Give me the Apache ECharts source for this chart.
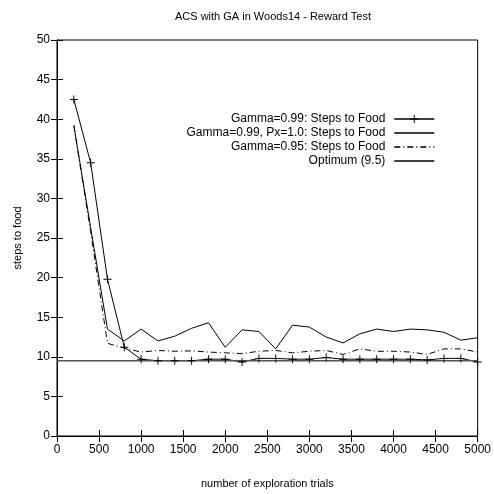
<!DOCTYPE html>
<html>
<head>
<meta charset="utf-8">
<script src="https://cdn.jsdelivr.net/npm/echarts@6/dist/echarts.min.js"></script>
<style>html,body{margin:0;padding:0;background:#fff}#c{width:494px;height:494px}</style>
</head>
<body>
<div id="c"></div>
<script>
var trials = [200,400,600,800,1000,1200,1400,1600,1800,2000,2200,2400,2600,2800,3000,3200,3400,3600,3800,4000,4200,4400,4600,4800,5000];
var gamma099 = [42.5,34.5,19.8,11.2,9.7,9.5,9.5,9.5,9.7,9.7,9.35,9.8,9.8,9.7,9.7,9.9,9.7,9.7,9.7,9.7,9.7,9.6,9.8,9.8,9.35];
var gamma099px = [39.2,26.3,13.5,12.0,13.5,12.0,12.6,13.6,14.3,11.2,13.4,13.2,11.0,14.0,13.75,12.5,11.75,12.9,13.5,13.2,13.5,13.4,13.1,12.1,12.4];
var gamma095 = [39.2,25.8,11.7,11.1,10.6,10.8,10.7,10.75,10.6,10.5,10.4,10.7,10.8,10.5,10.7,10.8,10.3,11.0,10.7,10.7,10.6,10.3,11.0,11.0,10.6];
var optimumX = [0,5000];
var optimumVal = 9.5;
var names = ['Gamma=0.99: Steps to Food','Gamma=0.99, Px=1.0: Steps to Food','Gamma=0.95: Steps to Food','Optimum (9.5)'];

function pairs(xs, ys){ return xs.map(function(x,i){return [x, ys[i]];}); }

var plusPath = 'path://M4.4,0 H5.6 V4.4 H10 V5.6 H5.6 V10 H4.4 V5.6 H0 V4.4 H4.4 Z';
var font = 'Liberation Sans, Arial, Helvetica, sans-serif';

var chart = echarts.init(document.getElementById('c'), null, {renderer:'canvas'});
var legendTops = [113, 127, 141, 155];
var legends = names.map(function(n,i){
  var l = {
    data:[n], right:59, top:legendTops[i], orient:'vertical', align:'right',
    itemWidth:40, itemHeight:10, itemGap:4, padding:0,
    textStyle:{fontSize:12, color:'#000', fontFamily:font, padding:[0,4,0,0]},
    lineStyle:{width:1.4, color:'#000'},
    selectedMode:false
  };
  if (i > 0) { l.itemStyle = {opacity:0}; }
  return l;
});
chart.setOption({
  animation:false,
  backgroundColor:'#fff',
  title:{text:'ACS with GA in Woods14 - Reward Test', left:268, top:6, textAlign:'center',
    textStyle:{fontSize:11, fontWeight:'normal', color:'#000', fontFamily:font}},
  legend: legends,
  grid:{left:57, right:15, top:40, bottom:54, show:true, borderColor:'#000', borderWidth:1, containLabel:false},
  xAxis:[{
    type:'value', min:0, max:5000, interval:500, position:'bottom',
    name:'number of exploration trials', nameLocation:'middle', nameGap:42,
    nameTextStyle:{fontSize:11, color:'#000', fontFamily:font},
    axisLine:{show:true, lineStyle:{color:'#000', width:1}},
    axisTick:{show:true, inside:true, length:6, lineStyle:{color:'#000'}},
    axisLabel:{fontSize:12, color:'#000', fontFamily:font, margin:8, formatter:function(v){return String(v);}},
    splitLine:{show:false}
  },{
    type:'value', min:0, max:5000, interval:500, position:'top',
    axisLine:{show:true, lineStyle:{color:'#000', width:1}},
    axisTick:{show:true, inside:true, length:6, lineStyle:{color:'#000'}},
    axisLabel:{show:false}, splitLine:{show:false}
  }],
  yAxis:[{
    type:'value', min:0, max:50, interval:5, position:'left',
    name:'steps to food', nameLocation:'middle', nameGap:34, nameRotate:90,
    nameTextStyle:{fontSize:11, color:'#000', fontFamily:font},
    axisLine:{show:true, lineStyle:{color:'#000', width:1}},
    axisTick:{show:true, inside:true, length:6, lineStyle:{color:'#000'}},
    axisLabel:{fontSize:12, color:'#000', fontFamily:font, margin:7},
    splitLine:{show:false}
  },{
    type:'value', min:0, max:50, interval:5, position:'right',
    axisLine:{show:true, lineStyle:{color:'#000', width:1}},
    axisTick:{show:true, inside:true, length:6, lineStyle:{color:'#000'}},
    axisLabel:{show:false}, splitLine:{show:false}
  }],
  series:[{
    name:names[0], type:'line', data:pairs(trials,gamma099),
    symbol:plusPath, symbolSize:8, showSymbol:true,
    itemStyle:{color:'#000'}, lineStyle:{color:'#000', width:1}
  },{
    name:names[1], type:'line', data:pairs(trials,gamma099px),
    symbol:'none', itemStyle:{color:'#000'}, lineStyle:{color:'#000', width:1}
  },{
    name:names[2], type:'line', data:pairs(trials,gamma095),
    symbol:'none', itemStyle:{color:'#000'}, lineStyle:{color:'#000', width:1, type:[6,3,1,3]}
  },{
    name:names[3], type:'line', data:optimumX.map(function(x){return [x, optimumVal];}),
    symbol:'none', itemStyle:{color:'#000'}, lineStyle:{color:'#555', width:1.3}
  }]
});
</script>
</body>
</html>
